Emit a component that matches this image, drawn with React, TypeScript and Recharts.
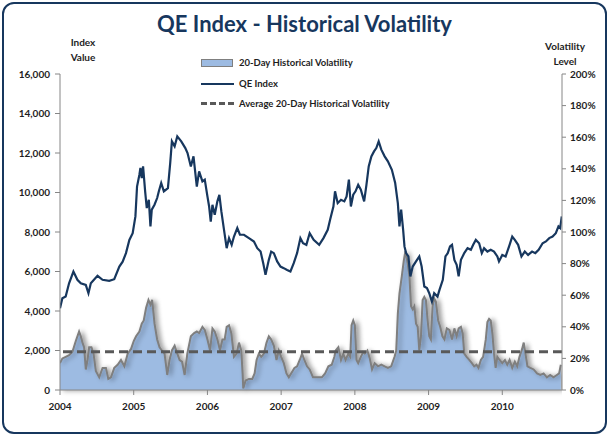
import React from 'react';
import { ComposedChart, Area, Line, XAxis, YAxis, ReferenceLine } from 'recharts';

const yearTicks = [2004, 2005, 2006, 2007, 2008, 2009, 2010];
const indexTicks = [0, 2000, 4000, 6000, 8000, 10000, 12000, 14000, 16000];
const volTicks = [0, 20, 40, 60, 80, 100, 120, 140, 160, 180, 200];
const averageVolatility = 24.2;

// QE index (decimal year / index level)
const indexDates = [
  2004.0, 2004.032, 2004.077, 2004.123, 2004.182, 2004.236, 2004.282, 2004.35, 2004.386, 2004.418,
  2004.509, 2004.577, 2004.668, 2004.736, 2004.805, 2004.85, 2004.895, 2004.941, 2004.986, 2005.023,
  2005.045, 2005.077, 2005.091, 2005.109, 2005.127, 2005.155, 2005.177, 2005.205, 2005.227, 2005.245,
  2005.282, 2005.318, 2005.341, 2005.373, 2005.409, 2005.464, 2005.495, 2005.518, 2005.555, 2005.591,
  2005.645, 2005.7, 2005.73, 2005.775, 2005.811, 2005.856, 2005.887, 2005.932, 2005.964, 2006.0,
  2006.023, 2006.045, 2006.068, 2006.099, 2006.135, 2006.162, 2006.189, 2006.225, 2006.261, 2006.293,
  2006.329, 2006.36, 2006.405, 2006.441, 2006.495, 2006.563, 2006.631, 2006.676, 2006.721, 2006.757,
  2006.788, 2006.833, 2006.865, 2006.901, 2006.946, 2006.991, 2007.036, 2007.081, 2007.126, 2007.171,
  2007.216, 2007.261, 2007.297, 2007.342, 2007.387, 2007.441, 2007.516, 2007.574, 2007.632, 2007.664,
  2007.709, 2007.731, 2007.767, 2007.812, 2007.857, 2007.888, 2007.919, 2007.946, 2007.978, 2008.009,
  2008.045, 2008.081, 2008.126, 2008.157, 2008.188, 2008.224, 2008.26, 2008.291, 2008.323, 2008.359,
  2008.404, 2008.448, 2008.502, 2008.547, 2008.583, 2008.605, 2008.628, 2008.655, 2008.673, 2008.695,
  2008.726, 2008.753, 2008.785, 2008.83, 2008.874, 2008.906, 2008.942, 2008.978, 2009.009, 2009.045,
  2009.076, 2009.121, 2009.148, 2009.193, 2009.229, 2009.26, 2009.291, 2009.318, 2009.35, 2009.381,
  2009.408, 2009.439, 2009.484, 2009.529, 2009.574, 2009.605, 2009.641, 2009.686, 2009.722, 2009.753,
  2009.798, 2009.843, 2009.888, 2009.933, 2009.955, 2010.0, 2010.045, 2010.099, 2010.135, 2010.17,
  2010.215, 2010.26, 2010.305, 2010.35, 2010.404, 2010.448, 2010.493, 2010.547, 2010.592, 2010.637,
  2010.682, 2010.726, 2010.762, 2010.785, 2010.807,
];
const indexValues = [
  4140, 4650, 4730, 5400, 6000, 5580, 5400, 5320, 4900, 5400,
  5780, 5580, 5530, 5610, 6250, 6500, 6930, 7600, 7940, 8790,
  10300, 10900, 11240, 10730, 11320, 10060, 9210, 9630, 8280, 9130,
  9380, 9720, 10060, 10480, 10060, 10220, 11490, 12590, 12340, 12840,
  12590, 12250, 12000, 11320, 11830, 10300, 11070, 10560, 10650, 9800,
  9290, 8530, 9380, 8870, 9550, 9880, 9040, 8110, 7180, 7690,
  7350, 7770, 8200, 7860, 7860, 7690, 7520, 7180, 7010, 6420,
  5830, 6590, 7010, 6930, 6510, 6250, 6170, 6080, 6000, 6420,
  6930, 7690, 7430, 7350, 7940, 7600, 7350, 7690, 8110, 8620,
  9290, 10060, 9460, 9630, 9550, 9800, 10650, 9290, 9890, 10060,
  10390, 10140, 9550, 10390, 11320, 11830, 12080, 12250, 12590, 12170,
  11830, 11580, 11150, 10480, 9460, 8280, 9130, 8110, 7270, 6930,
  6760, 5750, 6250, 6510, 6760, 6250, 5240, 5160, 4900, 4480,
  4900, 4730, 5070, 5580, 6760, 6930, 7270, 7350, 6590, 6340,
  5750, 6590, 6930, 7180, 7100, 7350, 7600, 7430, 6930, 7180,
  7010, 7100, 7010, 6760, 6510, 6840, 6760, 7350, 7770, 7600,
  7350, 6760, 7010, 6840, 7010, 6930, 7100, 7430, 7520, 7690,
  7770, 7940, 8280, 8200, 8790,
];

// 20-day historical volatility, percent
const volDates = [
  2004.0, 2004.032, 2004.077, 2004.123, 2004.168, 2004.214, 2004.259, 2004.282, 2004.305, 2004.327,
  2004.35, 2004.373, 2004.395, 2004.427, 2004.455, 2004.486, 2004.532, 2004.577, 2004.623, 2004.655,
  2004.691, 2004.736, 2004.782, 2004.827, 2004.873, 2004.918, 2004.964, 2005.0, 2005.032, 2005.077,
  2005.109, 2005.136, 2005.168, 2005.2, 2005.227, 2005.25, 2005.282, 2005.318, 2005.35, 2005.382,
  2005.418, 2005.455, 2005.486, 2005.518, 2005.555, 2005.591, 2005.623, 2005.655, 2005.691, 2005.727,
  2005.775, 2005.82, 2005.856, 2005.887, 2005.932, 2005.964, 2006.0, 2006.036, 2006.068, 2006.099,
  2006.135, 2006.171, 2006.203, 2006.234, 2006.261, 2006.293, 2006.324, 2006.36, 2006.396, 2006.428,
  2006.459, 2006.477, 2006.486, 2006.518, 2006.563, 2006.608, 2006.64, 2006.667, 2006.698, 2006.73,
  2006.766, 2006.802, 2006.833, 2006.865, 2006.901, 2006.937, 2006.968, 2007.0, 2007.036, 2007.072,
  2007.104, 2007.135, 2007.18, 2007.216, 2007.252, 2007.284, 2007.315, 2007.351, 2007.387, 2007.432,
  2007.486, 2007.552, 2007.596, 2007.641, 2007.686, 2007.722, 2007.74, 2007.776, 2007.812, 2007.843,
  2007.874, 2007.91, 2007.937, 2007.955, 2007.978, 2008.0, 2008.022, 2008.045, 2008.081, 2008.112,
  2008.135, 2008.17, 2008.202, 2008.233, 2008.269, 2008.314, 2008.359, 2008.404, 2008.448, 2008.493,
  2008.538, 2008.561, 2008.583, 2008.605, 2008.637, 2008.664, 2008.686, 2008.717, 2008.74, 2008.762,
  2008.785, 2008.807, 2008.83, 2008.852, 2008.874, 2008.897, 2008.919, 2008.942, 2008.964, 2008.987,
  2009.009, 2009.031, 2009.054, 2009.076, 2009.099, 2009.13, 2009.157, 2009.188, 2009.215, 2009.247,
  2009.283, 2009.318, 2009.35, 2009.381, 2009.408, 2009.439, 2009.462, 2009.484, 2009.516, 2009.552,
  2009.587, 2009.619, 2009.65, 2009.677, 2009.709, 2009.74, 2009.776, 2009.798, 2009.821, 2009.843,
  2009.865, 2009.888, 2009.91, 2009.933, 2009.964, 2010.0, 2010.036, 2010.067, 2010.099, 2010.135,
  2010.17, 2010.202, 2010.233, 2010.269, 2010.291, 2010.314, 2010.341, 2010.381, 2010.426, 2010.471,
  2010.516, 2010.561, 2010.605, 2010.65, 2010.695, 2010.74, 2010.771, 2010.794,
];
const volValues = [
  17, 20, 21, 22, 24, 31, 37, 34, 30, 27,
  13, 19, 27, 27, 23, 12, 8, 14, 14, 7,
  8, 14, 16, 19, 15, 23, 26, 31, 34, 37,
  42, 44, 52, 57, 54, 57, 42, 32, 27, 25,
  23, 9.5, 19, 25, 28, 23, 19, 18, 9.5, 23,
  34, 36, 37, 36, 40, 38, 32, 25, 39, 37,
  32, 25, 32, 32, 40, 41, 36, 21, 23, 30,
  25, 10.5, 1, 6, 7, 7, 10.5, 19, 23, 21,
  23, 30, 34, 32, 28, 19, 25, 21, 17, 10.5,
  8, 10.5, 14, 15, 19, 23, 19, 15, 13, 8,
  8, 8, 10.5, 15, 16, 21, 25, 27, 19, 23,
  19, 23, 21, 41, 44, 41, 19, 17, 21, 24,
  23, 25, 20, 13, 17, 15, 16, 15, 14, 15,
  21, 25, 48.5, 61, 72, 82, 88, 80, 72, 53,
  51, 53, 42, 40, 25, 34, 57, 59, 57, 44,
  34, 32, 53, 58, 56, 44, 40, 34, 32, 39,
  38, 32, 39, 34, 39, 40, 36, 23, 21, 19,
  17, 15, 16, 14, 19, 21, 32, 43, 45, 44,
  36, 23, 14, 21, 19, 17, 19, 16, 19, 14,
  18, 15, 21, 26, 30, 23, 15, 14, 13, 10.5,
  9.5, 10.5, 8, 9.5, 8, 9.5, 10.5, 16,
];

const indexData = indexDates.map((t, i) => ({ t, value: indexValues[i] }));
const volData = volDates.map((t, i) => ({ t, vol: volValues[i] }));

const FONT = 'Lato, "Open Sans", sans-serif';
const NAVY = '#17375E';
const TEXT = '#1e1e1e';
const AXIS = '#868686';
const tickStyle = { fill: TEXT, fontSize: 10, fontWeight: 700, fontFamily: FONT };

const legendText: React.CSSProperties = {
  position: 'absolute',
  left: 239,
  fontSize: 9.5,
  fontWeight: 700,
  color: TEXT,
  fontFamily: FONT,
  lineHeight: '12px',
  whiteSpace: 'nowrap',
};

export default function App() {
  return (
    <div style={{ position: 'absolute', left: 0, top: 0, width: 609, height: 436, background: '#fff', fontFamily: FONT }}>
      <div
        style={{
          position: 'absolute', left: 2, top: 2, width: 601, height: 428,
          border: `2px solid ${NAVY}`, borderRadius: 12, boxSizing: 'content-box',
        }}
      />
      <div style={{ position: 'absolute', left: 0, width: 609, top: 10, textAlign: 'center', fontSize: 22, fontWeight: 700, color: NAVY }}>
        QE Index - Historical Volatility
      </div>
      <div style={{ position: 'absolute', left: 53, width: 60, top: 35, textAlign: 'center', fontSize: 10, fontWeight: 700, color: TEXT, lineHeight: '15px' }}>
        Index<br />Value
      </div>
      <div style={{ position: 'absolute', left: 535, width: 60, top: 39, textAlign: 'center', fontSize: 10, fontWeight: 700, color: TEXT, lineHeight: '15px' }}>
        Volatility<br />Level
      </div>

      <ComposedChart
        width={609}
        height={436}
        margin={{ top: 74, right: 0, bottom: 16, left: 0 }}
        style={{ position: 'absolute', left: 0, top: 0 }}
      >
        <defs>
          <filter id="volShadow" x="-5%" y="-20%" width="115%" height="140%">
            <feDropShadow dx="3" dy="1" stdDeviation="2.5" floodColor="#000" floodOpacity="0.35" />
          </filter>
        </defs>
        <XAxis
          dataKey="t"
          type="number"
          domain={[2004, 2010.81]}
          ticks={yearTicks}
          allowDataOverflow
          height={30}
          stroke={AXIS}
          tickSize={5}
          tickMargin={8}
          tick={tickStyle}
          tickFormatter={(v: number) => String(v)}
        />
        <YAxis
          yAxisId="idx"
          domain={[0, 16000]}
          ticks={indexTicks}
          width={60}
          stroke={AXIS}
          tickSize={5}
          tickMargin={5}
          tick={tickStyle}
          tickFormatter={(v: number) => v.toLocaleString('en-US')}
        />
        <YAxis
          yAxisId="vol"
          orientation="right"
          domain={[0, 200]}
          ticks={volTicks}
          width={47}
          stroke={AXIS}
          tickSize={4}
          tickMargin={4}
          tick={tickStyle}
          tickFormatter={(v: number) => `${v}%`}
        />
        <Area
          yAxisId="vol"
          data={volData}
          dataKey="vol"
          type="linear"
          fill="#9DBBE2"
          fillOpacity={1}
          stroke="#7F7F7F"
          strokeWidth={2}
          filter="url(#volShadow)"
          isAnimationActive={false}
        />
        <ReferenceLine yAxisId="vol" y={averageVolatility} stroke="#595959" strokeWidth={3} strokeDasharray="9 5" />
        <Line
          yAxisId="idx"
          data={indexData}
          dataKey="value"
          type="linear"
          stroke={NAVY}
          strokeWidth={2.2}
          dot={false}
          isAnimationActive={false}
        />
      </ComposedChart>

      {/* legend */}
      <div style={{ position: 'absolute', left: 201, top: 59, width: 30, height: 6, background: '#9DBBE2', border: '1.5px solid #7F7F7F' }} />
      <div style={{ ...legendText, top: 57 }}>20-Day Historical Volatility</div>
      <div style={{ position: 'absolute', left: 201, top: 83, width: 33, height: 2, background: NAVY }} />
      <div style={{ ...legendText, top: 78 }}>QE Index</div>
      <div style={{ position: 'absolute', left: 201, top: 102, width: 33, height: 0, borderTop: '3px dashed #595959' }} />
      <div style={{ ...legendText, top: 98 }}>Average 20-Day Historical Volatility</div>
    </div>
  );
}
